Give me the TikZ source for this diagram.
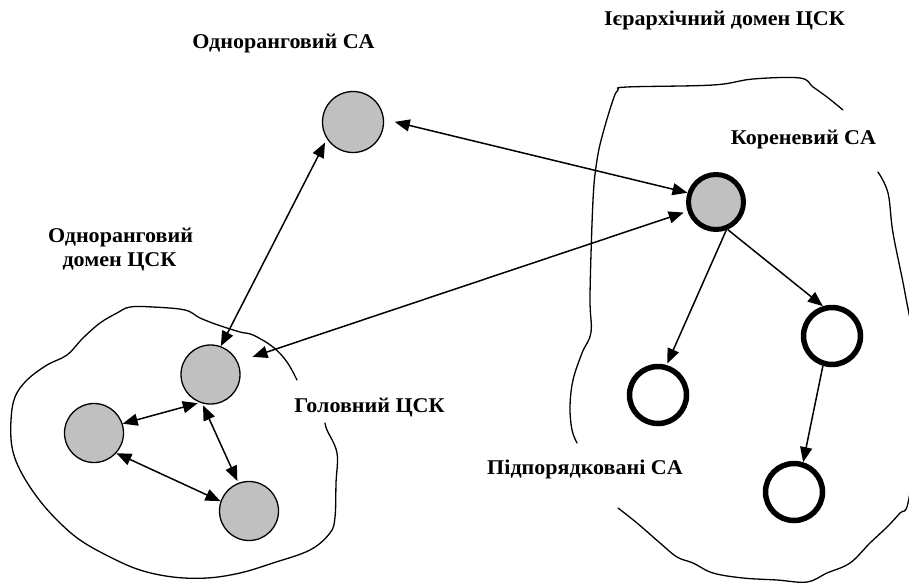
\documentclass[tikz,border=0pt]{standalone}
\usepackage{fontspec}
\setmainfont{Liberation Serif}[FakeStretch=1.05]
\usetikzlibrary{arrows.meta}
\definecolor{cagray}{RGB}{192,192,192}
\tikzset{
  peer/.style={circle, draw, line width=1.3pt, fill=cagray, minimum size=59pt, inner sep=0pt},
  rootca/.style={circle, draw, line width=5pt, fill=cagray, minimum size=55pt, inner sep=0pt},
  subca/.style={circle, draw, line width=5.5pt, fill=white, minimum size=57pt, inner sep=0pt},
  lbl/.style={font=\fontsize{21}{24}\selectfont\bfseries, inner sep=0pt, anchor=base},
  blob/.style={line width=1.3pt, line join=round, line cap=round},
  tip/.style={line width=1.5pt, -{Triangle[length=15pt,width=12pt]}},
  dtip/.style={line width=1.5pt, {Triangle[length=15pt,width=12pt]}-{Triangle[length=15pt,width=12pt]}}
}
\begin{document}
\begin{tikzpicture}[x=1pt,y=-1pt]
\useasboundingbox (0,0) rectangle (909,584);
\begin{scope}
\clip (0,0) rectangle (909,584);
% left blob
\draw[blob] plot[smooth, tension=0.6] coordinates {(297,380) (287,362) (273,347) (253,335) (240,332) (218,325) (200,318) (185,310) (153,307) (130,307) (117,313) (100,323) (83,338) (67,355) (47,365) (27,380) (15,397) (11,420) (12,447) (20,470) (37,497) (57,520) (80,540) (110,557) (140,570) (173,577) (207,578) (240,573) (273,563) (310,550) (330,533) (335,517) (336,483) (337,453) (327,430) (325,423)};
% right blob, upper-left part
\draw[blob] plot[smooth, tension=0.6] coordinates {(577,443) (572,430) (570,407) (573,380) (582,353) (591,332) (590,295) (593,200) (597,160) (603,133) (613,100) (618,90) (627,87) (713,85) (753,79) (800,78) (813,87) (827,97) (843,110)};
% right blob, right and bottom part
\draw[blob] plot[smooth, tension=0.6] coordinates {(878,172) (888,193) (893,233) (905,293) (914,350) (916,440) (908,503) (900,513) (887,527) (870,543) (850,563) (827,573) (807,582) (777,580) (743,578) (713,573) (693,563) (677,557) (660,543) (637,523) (618,508)};
\end{scope}

% nodes
\node[peer, minimum size=61pt] (topca) at (353,122) {};
\node[rootca] (root) at (716,202) {};
\node[peer] (g1) at (210.5,374.5) {};
\node[peer] (g2) at (94,433) {};
\node[peer] (g3) at (249,511) {};
\node[subca] (w1) at (658,395) {};
\node[subca] (w2) at (832,336) {};
\node[subca] (w3) at (794,492) {};

% labels
\node[lbl] (tPeerCA) at (283.5,48.5) {Одноранговий CA};
\node[lbl] (tHier) at (724.5,25) {Ієрархічний домен ЦСК};
\node[lbl] (tRoot) at (803.5,144) {Кореневий CA};
\node[lbl] (tPeerDom1) at (120.5,242) {Одноранговий};
\node[lbl] (tPeerDom2) at (119.5,266) {домен ЦСК};
\node[lbl] (tMain) at (369.5,412) {Головний ЦСК};
\node[lbl] (tSub) at (585,474) {Підпорядковані CA};

% connectors
\draw[dtip, shorten <=11pt] (topca.5.4) -- (root.162);
\draw[dtip, shorten <=4pt] (topca.213.7) -- (g1.70.4);
\draw[dtip, shorten <=4pt, shorten >=15.5pt] (root.198.4) -- (g1.25.2);
\draw[dtip, shorten <=2pt] (g1.249.3) -- (g2.18.4);
\draw[dtip, shorten <=2pt, shorten >=2pt] (g1.254.9) -- (g3.111.2);
\draw[dtip] (g2.-42.1) -- (g3.161.6);
\draw[tip, shorten >=1.5pt] (root.-70.3) -- (w1.74.3);
\draw[tip] (root.-67) -- (w2.107.9);
\draw[tip] (w2.253.8) -- (w3.73.3);
\end{tikzpicture}
\end{document}
